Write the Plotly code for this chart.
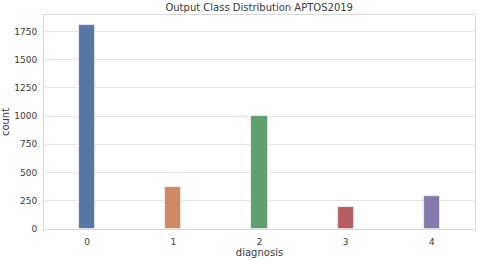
import plotly.graph_objects as go

categories = ["0", "1", "2", "3", "4"]
counts = [1805, 370, 999, 193, 295]
colors = ["#5975a4", "#cc8963", "#5f9e6e", "#b55d60", "#857aab"]
y_ticks = [0, 250, 500, 750, 1000, 1250, 1500, 1750]

fig = go.Figure()
fig.add_trace(go.Bar(
    x=[int(c) for c in categories], y=counts, width=0.19,
    marker=dict(color=colors, line=dict(color="#f0f0f0", width=0.8)),
))
font = dict(family="DejaVu Sans", size=9, color="#3a3a3a")
fig.update_layout(
    width=480, height=260,
    margin=dict(l=44, r=5, t=15, b=31),
    paper_bgcolor="white", plot_bgcolor="white",
    showlegend=False,
    font=font,
    title=dict(text="Output Class Distribution APTOS2019", x=0.54, xanchor="center",
               y=0.97, yanchor="middle", font=dict(family="DejaVu Sans", size=10, color="#3a3a3a")),
    bargap=0,
)
fig.update_xaxes(
    range=[-0.5, 4.5], tickvals=[0, 1, 2, 3, 4], ticktext=categories,
    showgrid=False, zeroline=False, showline=True, mirror=True, linecolor="#d9d9d9", linewidth=1,
    title=dict(text="diagnosis", font=dict(size=10, color="#3a3a3a"), standoff=2),
    ticks="", ticklabelstandoff=4, automargin=False,
)
fig.update_yaxes(
    range=[0, 1895], tickvals=y_ticks,
    showgrid=True, gridcolor="#e3e3e3", gridwidth=1, zeroline=False,
    showline=True, mirror=True, linecolor="#d9d9d9", linewidth=1,
    title=dict(text="count", font=dict(size=10, color="#3a3a3a"), standoff=4),
    ticks="", ticklabelstandoff=4, automargin=False,
)
fig.write_html("out.html", config={"displayModeBar": False},
               post_script="document.body.style.margin='0';document.body.style.overflow='hidden';")
